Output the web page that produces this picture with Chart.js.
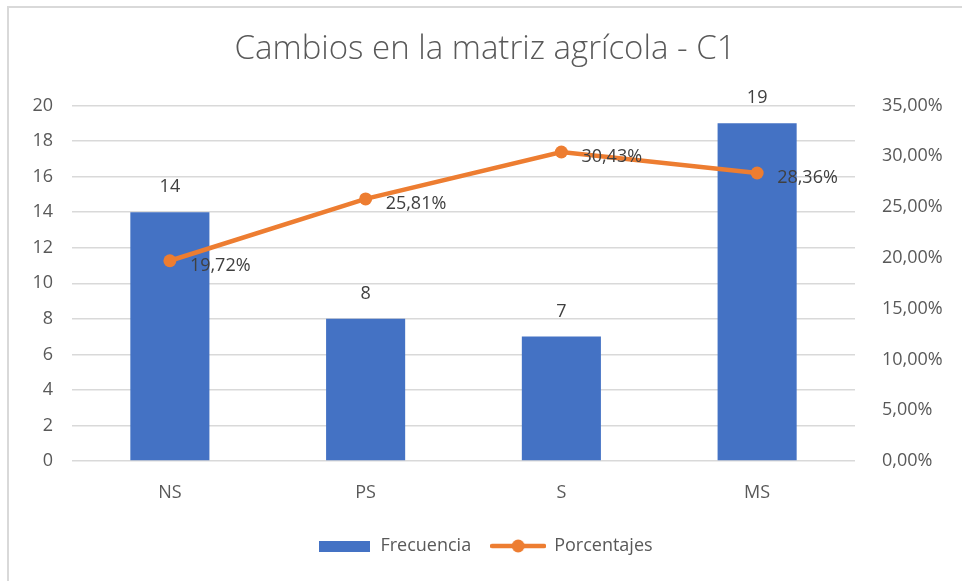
<!DOCTYPE html>
<html>
<head>
<meta charset="utf-8">
<script src="https://cdn.jsdelivr.net/npm/chart.js@4"></script>
<style>
html,body{margin:0;padding:0;background:#fff;}
#wrap{position:absolute;left:0;top:0;width:962px;height:581px;}
</style>
</head>
<body>
<div id="wrap"><canvas id="c" width="962" height="581"></canvas></div>
<script>
const categories = ["NS", "PS", "S", "MS"];
const frecuencia = [14, 8, 7, 19];
const porcentajes = [0.1972, 0.2581, 0.3043, 0.2836];
const leftTicks = [0, 2, 4, 6, 8, 10, 12, 14, 16, 18, 20];
const rightTicks = [0, 0.05, 0.10, 0.15, 0.20, 0.25, 0.30, 0.35];

const FONT = "'Open Sans', sans-serif";
const TXT = "#595959";
const BAR = "#4472C4";
const LINE = "#ED7D31";

function pct(v){ return (v*100).toFixed(2).replace('.', ',') + '%'; }

function makeBarIcon(){
  const c = document.createElement('canvas');
  c.width = 51; c.height = 11;
  const x = c.getContext('2d');
  x.fillStyle = BAR; x.fillRect(0,0,51,11);
  return c;
}
function makeLineIcon(){
  const c = document.createElement('canvas');
  c.width = 56; c.height = 14;
  const x = c.getContext('2d');
  x.strokeStyle = LINE; x.lineWidth = 4.5; x.lineCap = 'round';
  x.beginPath(); x.moveTo(2,7); x.lineTo(54,7); x.stroke();
  x.fillStyle = LINE; x.beginPath(); x.arc(28,7,6.5,0,Math.PI*2); x.fill();
  return c;
}
const barIcon = makeBarIcon();
const lineIcon = makeLineIcon();

const borderPlugin = {
  id: 'outerBorder',
  beforeDraw(chart){
    const ctx = chart.ctx;
    ctx.save();
    ctx.fillStyle = '#fff';
    ctx.fillRect(0,0,chart.width,chart.height);
    ctx.strokeStyle = '#d9d9d9';
    ctx.lineWidth = 2;
    ctx.beginPath();
    ctx.moveTo(8, chart.height + 5);
    ctx.lineTo(8, 7);
    ctx.lineTo(chart.width + 5, 7);
    ctx.stroke();
    ctx.restore();
  }
};

const labelPlugin = {
  id: 'valueLabels',
  afterDatasetsDraw(chart){
    const ctx = chart.ctx;
    ctx.save();
    ctx.font = "18px " + FONT;
    ctx.fillStyle = "#404040";
    const barMeta = chart.getDatasetMeta(0);
    ctx.textAlign = 'center';
    ctx.textBaseline = 'middle';
    barMeta.data.forEach((el, i) => {
      ctx.fillText(String(frecuencia[i]), el.x, el.y - 25);
    });
    const lineMeta = chart.getDatasetMeta(1);
    ctx.textAlign = 'left';
    lineMeta.data.forEach((el, i) => {
      ctx.fillText(pct(porcentajes[i]), el.x + 20, el.y + 5);
    });
    ctx.restore();
  }
};

new Chart(document.getElementById('c'), {
  data: {
    labels: categories,
    datasets: [
      {
        type: 'bar',
        label: 'Frecuencia',
        data: frecuencia,
        backgroundColor: BAR,
        borderWidth: 0,
        categoryPercentage: 0.8,
        barPercentage: 0.505,
        yAxisID: 'y',
        order: 2
      },
      {
        type: 'line',
        label: 'Porcentajes',
        data: porcentajes,
        borderColor: LINE,
        backgroundColor: LINE,
        borderWidth: 4.5,
        pointRadius: 6.5,
        pointHoverRadius: 6.5,
        pointBackgroundColor: LINE,
        pointBorderWidth: 0,
        tension: 0,
        yAxisID: 'y1',
        order: 1
      }
    ]
  },
  options: {
    responsive: false,
    animation: false,
    devicePixelRatio: 1,
    layout: { padding: { left: 8, right: 0, top: 0, bottom: 16 } },
    plugins: {
      title: {
        display: true,
        text: 'Cambios en la matriz agrícola - C1',
        color: TXT,
        font: { family: FONT, size: 33, weight: 300, lineHeight: 1.2 },
        padding: { top: 30, bottom: 36 }
      },
      legend: {
        position: 'bottom',
        labels: {
          color: TXT,
          font: { family: FONT, size: 18 },
          usePointStyle: true,
          pointStyleWidth: 54,
          boxHeight: 14,
          padding: 20,
          generateLabels(chart){
            return [
              { text: 'Frecuencia', pointStyle: barIcon, fillStyle: BAR, strokeStyle: BAR, lineWidth: 0, datasetIndex: 0, fontColor: TXT },
              { text: 'Porcentajes', pointStyle: lineIcon, fillStyle: LINE, strokeStyle: LINE, lineWidth: 0, datasetIndex: 1, fontColor: TXT }
            ];
          }
        }
      },
      tooltip: { enabled: false }
    },
    scales: {
      x: {
        grid: { display: false, drawTicks: false },
        border: { display: false },
        ticks: { color: TXT, font: { family: FONT, size: 18 }, padding: 21 },
        afterFit(s){ s.height = 56; }
      },
      y: {
        position: 'left',
        min: 0, max: 20,
        afterBuildTicks(s){ s.ticks = leftTicks.map(v => ({ value: v })); },
        grid: { color: '#d9d9d9', lineWidth: 1.5, drawTicks: false },
        border: { display: false },
        ticks: { color: TXT, font: { family: FONT, size: 18 }, padding: 19 },
        afterFit(s){ s.width = 64; }
      },
      y1: {
        position: 'right',
        min: 0, max: 0.35,
        afterBuildTicks(s){ s.ticks = rightTicks.map(v => ({ value: v })); },
        grid: { display: false, drawTicks: false },
        border: { display: false },
        ticks: { color: TXT, font: { family: FONT, size: 18 }, padding: 27, callback: v => pct(v) },
        afterFit(s){ s.width = 107; }
      }
    }
  },
  plugins: [borderPlugin, labelPlugin]
});
</script>
</body>
</html>
